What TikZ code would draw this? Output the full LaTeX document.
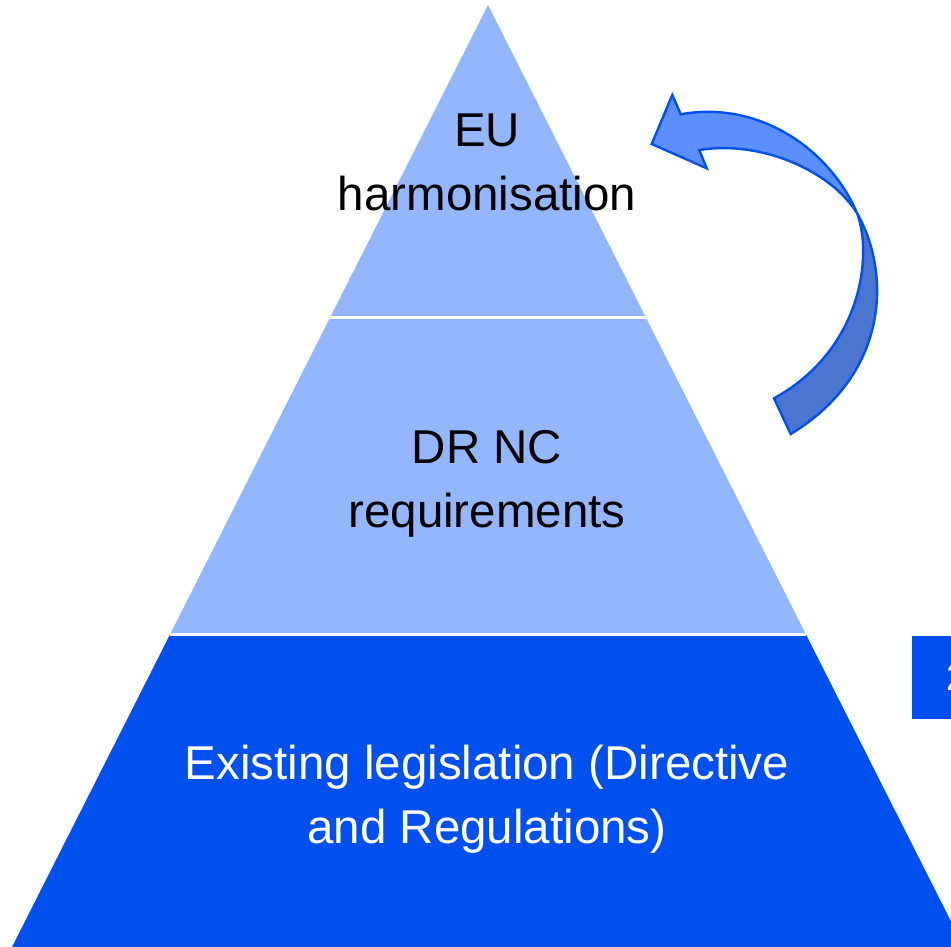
\documentclass[tikz,border=0pt]{standalone}
\usepackage{fontspec}
\setmainfont{Liberation Sans}
\definecolor{pyrlight}{HTML}{93B6FF}
\definecolor{pyrdark}{HTML}{0050EF}
\definecolor{arrlight}{HTML}{5B8FFF}
\definecolor{arrdark}{HTML}{4A76CF}
\definecolor{arredge}{HTML}{0050EF}
\tikzset{
  lbl/.style={font=\fontsize{47.5}{64}\selectfont, inner sep=0pt, anchor=base},
  arrpart/.style={draw=arredge, line width=2.4pt, line join=miter},
  sepline/.style={draw=white, line width=2.6pt}
}
\begin{document}
\begin{tikzpicture}[x=1pt,y=-1pt]
\useasboundingbox (0,0) rectangle (951,947);
\clip (0,0) rectangle (951,947);
% pyramid
\coordinate (apex) at (488,5);
\coordinate (l1) at (330.3,317.5);
\coordinate (r1) at (645.7,317.5);
\coordinate (l2) at (170,634.5);
\coordinate (r2) at (806,634.5);
\coordinate (l3) at (12,947);
\coordinate (r3) at (964,947);
\fill[pyrlight] (apex) -- (l2) -- (r2) -- cycle;
\fill[pyrdark] (l2) -- (l3) -- (r3) -- (r2) -- cycle;
\draw[sepline] (l1) -- (r1);
\draw[sepline] (l2) -- (r2);
% texts
\node[lbl] (t1a) at (487,147) {EU};
\node[lbl] (t1b) at (487,211) {harmonisation};
\node[lbl] (t2a) at (487,463) {DR NC};
\node[lbl] (t2b) at (487,527) {requirements};
\node[lbl, text=white] (t3a) at (487,779) {Existing legislation (Directive};
\node[lbl, text=white] (t3b) at (487,843) {and Regulations)};
% curved arrow key points
\coordinate (cross) at (857,213);
\coordinate (tail1) at (790.7,434);
\coordinate (tail2) at (774,398.3);
\coordinate (tip) at (651.7,144);
\coordinate (wing1) at (672.3,95);
\coordinate (neck1) at (680.7,114.3);
\coordinate (neck2) at (699.3,150);
\coordinate (wing2) at (706.7,168.3);
% back (dark) part
\path[arrpart, fill=arrdark]
  (cross) .. controls (892,275) and (888,375) .. (tail1)
  -- (tail2) .. controls (862,350) and (873,255) .. (cross) -- cycle;
% front (light) part with head
\path[arrpart, fill=arrlight]
  (tip) -- (wing1) -- (neck1)
  .. controls (760,100) and (830,150) .. (cross)
  .. controls (830,170) and (760,140) .. (neck2)
  -- (wing2) -- cycle;
% partly visible box at right
\fill[pyrdark] (912,636) rectangle (970,719);
\node[font=\fontsize{38}{44}\selectfont, text=white, inner sep=0pt, anchor=base west] (box2) at (946,690) {2};
\end{tikzpicture}
\end{document}
